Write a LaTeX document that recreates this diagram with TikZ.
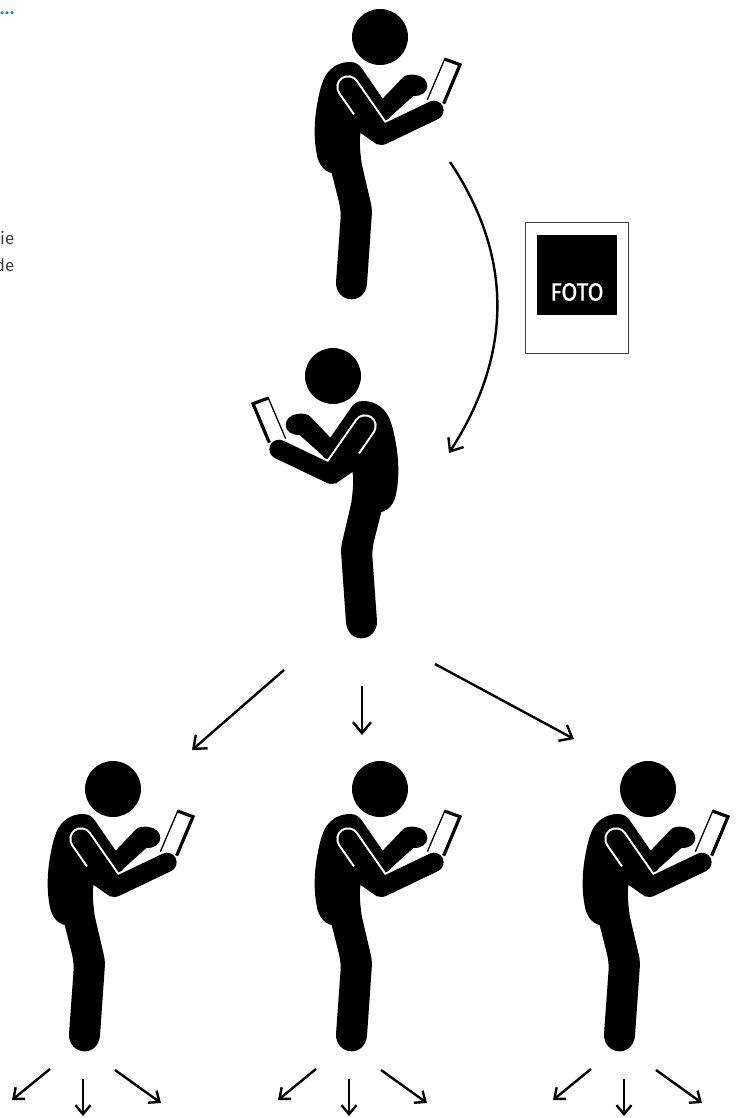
\documentclass[tikz,border=0pt]{standalone}
\usepackage{fontspec}
\setmainfont{Fira Sans}
\usetikzlibrary{arrows.meta}
\definecolor{teal1}{HTML}{1B8FA8}
\tikzset{
  bigarrow/.style={draw=black,line width=2.4pt,-{Straight Barb[length=11pt,width=18pt,line width=2.4pt]}},
  smallarrow/.style={draw=black,line width=2.4pt,-{Straight Barb[length=9pt,width=15pt,line width=2.4pt]}},
  person/.pic={
    \begin{scope}[x=0.33333pt,y=-0.33333pt,shift={(-270,-110)}]
      % head
      \fill (270,110) circle (84);
      % body, leg and back arm
      \fill (180,185) .. controls (197,185) and (208,193) .. (216,205)
        -- (278,295) -- (338,232)
        .. controls (345,224) and (360,221) .. (378,224)
        .. controls (398,227) and (412,240) .. (412,257)
        .. controls (412,275) and (395,288) .. (370,287)
        -- (300,350) -- (275,405) -- (212,395)
        .. controls (207,420) and (210,450) .. (215,490)
        -- (243,610) .. controls (246,625) and (246,635) .. (245,650)
        -- (231,850)
        .. controls (228,880) and (208,897) .. (185,897)
        .. controls (158,897) and (137,875) .. (138,845)
        -- (152,650) .. controls (152,630) and (150,620) .. (147,605)
        -- (125,518)
        .. controls (100,512) and (85,490) .. (80,460)
        .. controls (72,420) and (72,370) .. (80,320)
        .. controls (87,280) and (95,240) .. (112,218)
        .. controls (130,195) and (155,185) .. (180,185) -- cycle;
      % front arm with its white outline
      \draw[white,line width=23.4pt,line cap=round,line join=round] (174,260) -- (275,405) -- (432,330);
      \fill[black] (175,352) -- (197,340) -- (240,330) -- (275,405) -- (262,433) -- (212,398) -- (175,400) -- cycle;
      \draw[black,line width=19.3pt,line cap=round,line join=round] (174,260) -- (275,405) -- (432,330);
      % phone
      \draw[black,line width=3.2pt,line cap=butt,line join=miter] (463,176) -- (510,193) -- (461,310);
      \draw[black,line width=1.3pt,line cap=butt] (465,174) -- (412,298);
    \end{scope}
  }
}
\begin{document}
\begin{tikzpicture}[x=1pt,y=-1pt]
  \useasboundingbox (0,0) rectangle (738,1118);
  \clip (0,0) rectangle (738,1118);
  % clipped text at the left edge
  \node[anchor=base west,inner sep=0pt,text=teal1,font=\fontsize{17}{17}\selectfont\bfseries\addfontfeatures{LetterSpace=5}] (dots) at (0,15) {...};
  \node[anchor=base east,inner sep=0pt,text=black!75,font=\fontsize{17}{17}\selectfont] (lineA) at (14.5,244) {ie};
  \node[anchor=base east,inner sep=0pt,text=black!75,font=\fontsize{17}{17}\selectfont] (lineB) at (14.5,271) {de};
  % figures
  \pic at (380,37) {person};
  \pic[xscale=-1] at (333,376) {person};
  \pic at (113,789) {person};
  \pic at (380,789) {person};
  \pic at (648,789) {person};
  % photo
  \node[draw=black!75,line width=1pt,fill=white,minimum width=103pt,minimum height=131pt,inner sep=0pt,anchor=north west] (frame) at (525,222) {};
  \node[fill=black,minimum width=80pt,minimum height=80pt,inner sep=0pt,anchor=north west] (photo) at (537,235) {};
  \node[text=white,inner sep=0pt,font=\fontsize{25}{25}\selectfont\addfontfeatures{FakeStretch=0.92,FakeBold=0.8}] (foto) at (577,292) {FOTO};
  % connector anchors
  \coordinate (c0) at (450,162);
  \coordinate (c1) at (449,453);
  \coordinate (m0a) at (284,670);
  \coordinate (m0b) at (192,750);
  \coordinate (m1a) at (362,686);
  \coordinate (m1b) at (362,735);
  \coordinate (m2a) at (435,664);
  \coordinate (m2b) at (574,739);
  \draw[bigarrow] (c0) .. controls (517,262) and (509,360) .. (c1);
  \draw[bigarrow] (m0a) -- (m0b);
  \draw[bigarrow] (m1a) -- (m1b);
  \draw[bigarrow] (m2a) -- (m2b);
  % bottom arrows
  \foreach \n/\dx in {a/0,b/266,c/541}{
    \coordinate (\n l0) at (50+\dx,1069);
    \coordinate (\n l1) at (12+\dx,1100);
    \coordinate (\n m0) at (83+\dx,1079);
    \coordinate (\n m1) at (83+\dx,1116);
    \coordinate (\n r0) at (115+\dx,1070);
    \coordinate (\n r1) at (161+\dx,1103);
    \draw[smallarrow] (\n l0) -- (\n l1);
    \draw[smallarrow] (\n m0) -- (\n m1);
    \draw[smallarrow] (\n r0) -- (\n r1);
  }
\end{tikzpicture}
\end{document}
